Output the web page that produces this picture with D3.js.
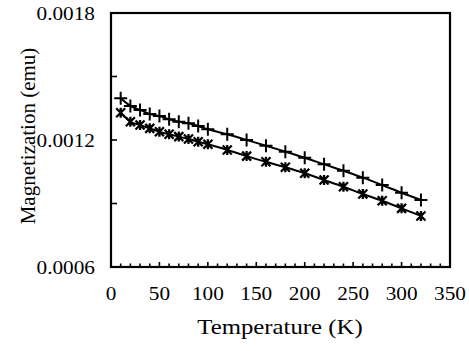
<!DOCTYPE html>
<html>
<head>
<meta charset="utf-8">
<script src="https://cdn.jsdelivr.net/npm/d3@7/dist/d3.min.js"></script>
<style>
  html, body { margin: 0; padding: 0; background: #fff; }
  svg { display: block; }
</style>
</head>
<body>
<svg id="chart" width="469" height="351"></svg>
<script>
// Temperatures (K) at which magnetization was measured
const temperatures = [10, 20, 30, 40, 50, 60, 70, 80, 90, 100,
                      120, 140, 160, 180, 200, 220, 240, 260, 280, 300, 320];
// Upper curve ("+" markers)
const plusSeries = [0.001397, 0.001361, 0.001342, 0.001323, 0.001313, 0.001298, 0.001286,
                    0.001279, 0.001266, 0.001251, 0.001227, 0.001200, 0.001173, 0.001145,
                    0.001116, 0.001085, 0.001055, 0.001022, 0.000987, 0.000951, 0.000917];
// Lower curve (star markers)
const starSeries = [0.001329, 0.001286, 0.001271, 0.001255, 0.001239, 0.001227, 0.001216,
                    0.001205, 0.001192, 0.001180, 0.001153, 0.001124, 0.001097, 0.001071,
                    0.001043, 0.001011, 0.000979, 0.000945, 0.000913, 0.000877, 0.000841];
const xTickLabels = [0, 50, 100, 150, 200, 250, 300, 350];
const yTickLabels = [0.0006, 0.0012, 0.0018];
const yMinorTicks = [0.0009, 0.0012, 0.0015];

(function () {
  const FONT = "'Liberation Serif', 'Times New Roman', 'DejaVu Serif', serif";
  const svg = d3.select("#chart").attr("font-family", FONT);
  const plotLeft = 111, plotRight = 450, plotTop = 13, plotBottom = 267;

  const x = d3.scaleLinear().domain([0, 350]).range([plotLeft, plotRight]);
  const y = d3.scaleLinear().domain([0.0006, 0.0018]).range([plotBottom, plotTop]);

  // inner x ticks: minor every 10, longer every 50
  const xMinor = d3.range(10, 350, 10);
  svg.append("g").selectAll("line").data(xMinor).join("line")
    .attr("x1", d => x(d)).attr("x2", d => x(d))
    .attr("y1", plotBottom).attr("y2", d => plotBottom - (d % 50 === 0 ? 5 : 3.5))
    .attr("stroke", "#000").attr("stroke-width", 1.6);

  // inner y ticks
  svg.append("g").selectAll("line").data(yMinorTicks).join("line")
    .attr("x1", plotLeft).attr("x2", plotLeft + 6)
    .attr("y1", d => y(d)).attr("y2", d => y(d))
    .attr("stroke", "#000").attr("stroke-width", 1.6);

  // plot frame
  svg.append("rect")
    .attr("x", plotLeft).attr("y", plotTop)
    .attr("width", plotRight - plotLeft).attr("height", plotBottom - plotTop)
    .attr("fill", "none").attr("stroke", "#000").attr("stroke-width", 2.2);

  // horizontal labels are set slightly wide
  const TICK_SX = 1.12, TITLE_SX = 1.18;

  // x tick labels
  svg.append("g").selectAll("text").data(xTickLabels).join("text")
    .attr("font-family", FONT)
    .attr("transform", d => `translate(${x(d)},300) scale(${TICK_SX},1)`)
    .attr("text-anchor", "middle").attr("font-size", 19)
    .text(d => d);

  // y tick labels
  svg.append("g").selectAll("text").data(yTickLabels).join("text")
    .attr("font-family", FONT)
    .attr("transform", d => `translate(95,${y(d) + 6.5}) scale(${TICK_SX},1)`)
    .attr("text-anchor", "end").attr("font-size", 19)
    .text(d => d.toFixed(4));

  // axis titles
  svg.append("text").attr("font-family", FONT)
    .attr("transform", `translate(280,334) scale(${TITLE_SX},1)`)
    .attr("text-anchor", "middle").attr("font-size", 21)
    .text("Temperature (K)");
  svg.append("text").attr("font-family", FONT)
    .attr("transform", "translate(35,136) rotate(-90)")
    .attr("text-anchor", "middle").attr("font-size", 21)
    .text("Magnetization (emu)");

  const line = d3.line().curve(d3.curveMonotoneX)
    .x(d => x(d[0])).y(d => y(d[1]));

  const plusData = temperatures.map((t, i) => [t, plusSeries[i]]);
  const starData = temperatures.map((t, i) => [t, starSeries[i]]);

  [plusData, starData].forEach(data => {
    svg.append("path").datum(data)
      .attr("d", line).attr("fill", "none")
      .attr("stroke", "#000").attr("stroke-width", 2);
  });

  // "+" markers
  const plusG = svg.append("g").attr("stroke", "#000").attr("stroke-width", 2);
  plusG.selectAll("path").data(plusData).join("path")
    .attr("transform", d => `translate(${x(d[0])},${y(d[1])})`)
    .attr("d", "M-6.5,0H6.5M0,-6.5V6.5");

  // star markers (x with vertical stroke)
  const starG = svg.append("g").attr("stroke", "#000").attr("stroke-width", 2.3);
  starG.selectAll("path").data(starData).join("path")
    .attr("transform", d => `translate(${x(d[0])},${y(d[1])})`)
    .attr("d", "M-4.5,-4.5L4.5,4.5M-4.5,4.5L4.5,-4.5M0,-5V5");
})();
</script>
</body>
</html>
